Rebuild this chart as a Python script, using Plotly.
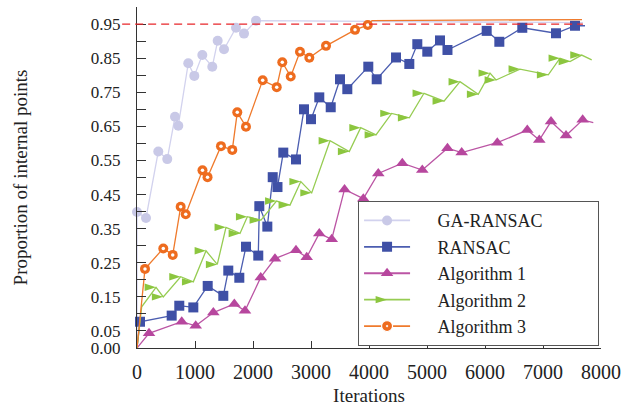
import plotly.graph_objects as go

# ---------------- data ----------------
iter_ticks = [0, 1000, 2000, 3000, 4000, 5000, 6000, 7000, 8000]
prop_ticks = [0.00, 0.05, 0.15, 0.25, 0.35, 0.45, 0.55, 0.65, 0.75, 0.85, 0.95]
prop_labels = ["0.00", "0.05", "0.15", "0.25", "0.35", "0.45", "0.55", "0.65", "0.75", "0.85", "0.95"]
threshold = 0.95

series_names = ["GA-RANSAC", "RANSAC", "Algorithm 1", "Algorithm 2", "Algorithm 3"]

# GA-RANSAC
ga_x = [0, 155, 367, 522, 655, 712, 884, 988, 1126, 1298, 1391, 1500, 1707, 1845, 2052]
ga_y = [0.399, 0.381, 0.576, 0.554, 0.678, 0.652, 0.835, 0.798, 0.859, 0.825, 0.901, 0.876, 0.939, 0.922, 0.960]
ga_lead_x, ga_lead_y = [0], [0.0]
ga_tail_x, ga_tail_y = [7690], [0.954]

# RANSAC
rs_x = [52, 598, 729, 971, 1219, 1488, 1574, 1764, 1879, 2091, 2109, 2247, 2340, 2422, 2522, 2741,
        2879, 3000, 3143, 3340, 3500, 3626, 3988, 4133, 4466, 4695, 4833, 5005, 5224, 5353, 6029,
        6247, 6643, 7224, 7552]
rs_y = [0.077, 0.095, 0.124, 0.119, 0.182, 0.153, 0.227, 0.206, 0.297, 0.271, 0.416, 0.356, 0.501,
        0.472, 0.573, 0.553, 0.700, 0.671, 0.735, 0.706, 0.788, 0.759, 0.825, 0.788, 0.852, 0.833,
        0.891, 0.869, 0.902, 0.874, 0.930, 0.898, 0.939, 0.923, 0.945]
rs_lead_x, rs_lead_y = [0], [0.0]
rs_tail_x, rs_tail_y = [7724], [0.945]

# Algorithm 1
a1_x = [207, 771, 1012, 1316, 1678, 1862, 2133, 2379, 2741, 2926, 3143, 3357, 3578, 3902, 4160,
        4574, 4919, 5353, 5598, 6212, 6729, 6936, 7138, 7397, 7684]
a1_y = [0.043, 0.077, 0.065, 0.104, 0.129, 0.109, 0.207, 0.262, 0.287, 0.266, 0.336, 0.319, 0.465,
        0.438, 0.512, 0.542, 0.522, 0.586, 0.573, 0.602, 0.639, 0.610, 0.664, 0.623, 0.669]
a1_lead_x, a1_lead_y = [0], [0.0]
a1_tail_x, a1_tail_y = [7867], [0.661]

# Algorithm 2
a2_x = [328, 453, 753, 971, 1190, 1384, 1534, 1776, 1902, 2138, 2405, 2638, 2824, 3012, 3328, 3660,
        3857, 4121, 4391, 4695, 4948, 5293, 5569, 5884, 6086, 6190, 6603, 7091, 7293, 7466, 7667]
a2_y = [0.178, 0.150, 0.209, 0.194, 0.285, 0.245, 0.354, 0.336, 0.385, 0.375, 0.431, 0.419, 0.488,
        0.455, 0.608, 0.576, 0.646, 0.625, 0.688, 0.675, 0.747, 0.724, 0.781, 0.744, 0.806, 0.786,
        0.818, 0.801, 0.850, 0.840, 0.859]
a2_lead_x, a2_lead_y = [0, 81], [0.0, 0.121]
a2_tail_x, a2_tail_y = [7840], [0.845]

# Algorithm 3
a3_x = [138, 453, 616, 753, 840, 1129, 1216, 1448, 1643, 1729, 1879, 2167, 2409, 2505, 2650, 2810,
        2971, 3259, 3759, 3978]
a3_y = [0.232, 0.292, 0.273, 0.414, 0.392, 0.521, 0.501, 0.592, 0.581, 0.691, 0.649, 0.785, 0.765,
        0.838, 0.796, 0.869, 0.851, 0.886, 0.933, 0.947]
a3_lead_x, a3_lead_y = [0], [0.0]
a3_tail_x, a3_tail_y = [4052, 7672], [0.960, 0.963]

# ---------------- styles ----------------
FONT = "Liberation Serif"
NB = "\u00a0"
styles = [
    dict(line="#d2d2ee", marker="#c9c9e7", symbol="circle", size=10, angle=0),
    dict(line="#4b5db0", marker="#3f50a6", symbol="square", size=10, angle=0),
    dict(line="#bb55a4", marker="#b7479e", symbol="triangle-up", size=11, angle=0),
    dict(line="#96cc52", marker="#8cc63f", symbol="arrow", size=12, angle=90),
    dict(line="#ef7a2c", marker="#ee6c1f", symbol="circle", size=10, angle=0),
]

data_sets = [
    (ga_lead_x, ga_lead_y, ga_x, ga_y, ga_tail_x, ga_tail_y),
    (rs_lead_x, rs_lead_y, rs_x, rs_y, rs_tail_x, rs_tail_y),
    (a1_lead_x, a1_lead_y, a1_x, a1_y, a1_tail_x, a1_tail_y),
    (a2_lead_x, a2_lead_y, a2_x, a2_y, a2_tail_x, a2_tail_y),
    (a3_lead_x, a3_lead_y, a3_x, a3_y, a3_tail_x, a3_tail_y),
]

fig = go.Figure()

for i, (name, st, (lx, ly, mx, my, tx, ty)) in enumerate(zip(series_names, styles, data_sets)):
    fig.add_trace(go.Scatter(
        x=lx + mx + tx, y=ly + my + ty, mode="lines",
        line=dict(color=st["line"], width=1.3), showlegend=False, hoverinfo="skip"))
    fig.add_trace(go.Scatter(
        x=mx, y=my, mode="markers", cliponaxis=False, showlegend=False,
        marker=dict(symbol=st["symbol"], size=st["size"], color=st["marker"],
                    angle=st["angle"], line=dict(width=0))))
    if name == "Algorithm 3":
        fig.add_trace(go.Scatter(
            x=mx, y=my, mode="markers", cliponaxis=False, showlegend=False,
            marker=dict(symbol="circle", size=3.5, color="white", line=dict(width=0))))
    legend_marker = dict(symbol=st["symbol"], size=st["size"], color=st["marker"],
                         angle=st["angle"], line=dict(width=0))
    if name == "Algorithm 3":
        legend_marker = dict(symbol="circle-dot", size=11, color=st["marker"],
                             line=dict(width=1.2, color="white"))
    label = NB * 5 + name + (NB * 11 if i == 0 else "")
    fig.add_trace(go.Scatter(
        x=[None], y=[None], mode="lines+markers", name=label,
        line=dict(color=st["line"], width=1.8), marker=legend_marker))

# threshold line
fig.add_shape(type="line", xref="paper", yref="y", x0=-0.032, x1=0.961,
              y0=threshold, y1=threshold,
              line=dict(color="#e8262a", width=1.2, dash="8px,5px"))

fig.update_layout(
    width=631, height=408,
    margin=dict(l=137, r=30, t=7, b=60),
    paper_bgcolor="white", plot_bgcolor="white",
    font=dict(family=FONT, color="#222222", size=19),
    legend=dict(x=0.476, y=0.431, xanchor="left", yanchor="top",
                bordercolor="#555555", borderwidth=1.2, bgcolor="white",
                font=dict(family=FONT, size=18, color="#222222"),
                itemwidth=46, tracegroupgap=0),
    xaxis=dict(range=[0, 8000], tickvals=iter_ticks, ticks="inside", ticklen=7,
               tickcolor="#333333", showline=True, linecolor="#333333", linewidth=1.4,
               showgrid=False, zeroline=False, tickfont=dict(size=20), automargin=False,
               ticklabelstandoff=6,
               title=dict(text="Iterations", font=dict(size=19), standoff=6)),
    yaxis=dict(range=[0, 1.0], tickvals=prop_ticks, ticktext=prop_labels, ticks="inside",
               ticklen=9, tickcolor="#333333", showline=True, linecolor="#333333",
               linewidth=1.4, showgrid=False, zeroline=False, tickfont=dict(size=17),
               automargin=False, ticklabelstandoff=12,
               minor=dict(ticks="inside", ticklen=9, tickcolor="#333333", tick0=0, dtick=0.1),
               title=dict(text="Proportion of internal points", font=dict(size=19), standoff=58)),
)

fig.write_html("out.html", config={"displayModeBar": False},
               post_script="document.body.style.margin='0px';document.body.style.overflow='hidden';")
